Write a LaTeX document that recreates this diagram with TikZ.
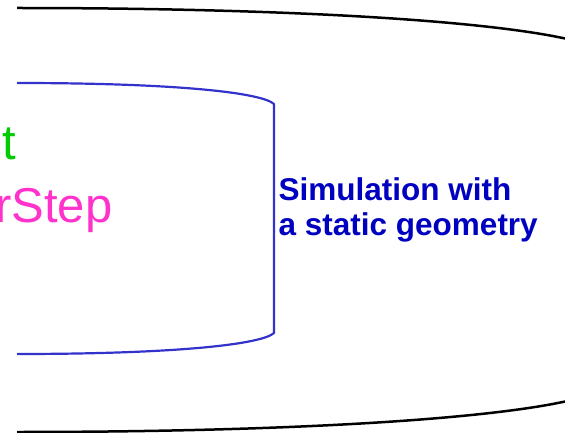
\documentclass[tikz,border=0pt]{standalone}
\usepackage{fontspec}
\setmainfont{Liberation Sans}
\definecolor{outerc}{HTML}{000000}
\definecolor{innerc}{HTML}{3333CC}
\definecolor{labelc}{HTML}{0000C0}
\definecolor{greenc}{HTML}{00CC00}
\definecolor{pinkc}{HTML}{FF33CC}
\tikzset{
  outerbrace/.style={draw=outerc, line width=2.5pt},
  innerbrace/.style={draw=innerc, line width=2.2pt, line join=round},
  biglabel/.style={inner sep=0pt, font=\fontsize{49}{60}\selectfont},
  bluelabel/.style={inner sep=0pt, align=left, text=labelc, font=\fontsize{31.5}{35}\selectfont\bfseries}
}
\begin{document}
\begin{tikzpicture}[x=1pt,y=1pt]
\useasboundingbox (0,0) rectangle (565,-433);
\clip (0,0) rectangle (565,-433);
% outer black brace
\draw[outerbrace] (17,-8) .. controls (300,-8) and (520,-22) .. (590,-45);
\draw[outerbrace] (17,-432) .. controls (300,-432) and (520,-418) .. (590,-395);
% inner blue brace
\coordinate (ib1) at (17,-83);
\coordinate (ib2) at (274,-104);
\coordinate (ib3) at (274,-333);
\coordinate (ib4) at (17,-354);
\draw[innerbrace] (ib1) .. controls (180,-83) and (262,-93) .. (ib2) -- (ib3) .. controls (262,-344) and (180,-354) .. (ib4);
% texts
\node[biglabel, text=greenc, anchor=base west] (tgreen) at (2,-160) {t};
\node[biglabel, text=pinkc, anchor=base west] (tpink) at (-5,-222) {rStep};
\node[bluelabel, anchor=base west] (sim) at (278.5,-235) {Simulation with\\a static geometry};
\end{tikzpicture}
\end{document}
